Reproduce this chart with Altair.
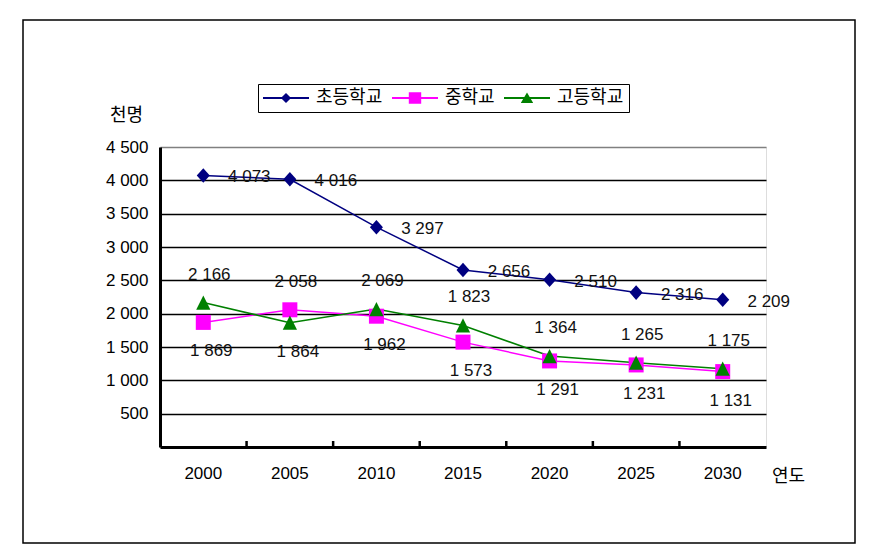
import altair as alt
import pandas as pd

# ---- data ----
years = ['2000', '2005', '2010', '2015', '2020', '2025', '2030']
series_names = ['초등학교', '중학교', '고등학교']
elementary = [4073, 4016, 3297, 2656, 2510, 2316, 2209]
middle = [1869, 2058, 1962, 1573, 1291, 1231, 1131]
high = [2166, 1864, 2069, 1823, 1364, 1265, 1175]
upper_labels = [2166, 2058, 2069, 1823, 1364, 1265, 1175]
lower_labels = [1869, 1864, 1962, 1573, 1291, 1231, 1131]
y_values = [500, 1000, 1500, 2000, 2500, 3000, 3500, 4000, 4500]

colors = ['#000080', '#FF00FF', '#008000']
point_paths = [
    'M-0.87,0L0,-0.97L0.87,0L0,0.97Z',
    'M-1,-1H1V1H-1Z',
    'M0,-0.95L0.95,0.95H-0.95Z',
]
line_path = 'M-1,-0.045H1V0.045H-1Z'
legend_paths = [
    line_path + 'M-0.22,0L0,-0.22L0.22,0L0,0.22Z',
    line_path + 'M-0.27,-0.25H0.27V0.25H-0.27Z',
    line_path + 'M0,-0.24L0.27,0.22H-0.27Z',
]

KFONT = 'Noto Sans CJK KR'
NFONT = 'Liberation Sans'
FS = 17
KFS = 18

rows = []
for name, vals in zip(series_names, [elementary, middle, high]):
    for yr, v in zip(years, vals):
        rows.append({'year': yr, 'series': name, 'value': v})
df = pd.DataFrame(rows)

fmt = "replace(format(datum.value, ','), ',', ' ')"

x_scale = alt.Scale(type='band', domain=years, paddingInner=0, paddingOuter=0)
y_scale = alt.Scale(domain=[0, 4500], nice=False, zero=True)

x_axis = alt.Axis(
    title='연도', titleFont=KFONT, titleFontSize=KFS, titleFontWeight='normal',
    titleColor='black', titleX=628, titleY=29, titleAlign='center',
    titleBaseline='middle', titleAngle=0,
    labelFont=NFONT, labelFontSize=FS, labelColor='black', labelAngle=0,
    labelBaseline='middle', labelPadding=26, ticks=False,
    domainColor='black', domainWidth=3, grid=False,
)
y_axis = alt.Axis(
    title='천명', titleFont=KFONT, titleFontSize=KFS, titleFontWeight='normal',
    titleColor='black', titleX=-34, titleY=-32, titleAlign='center',
    titleBaseline='middle', titleAngle=0,
    values=y_values, labelExpr=fmt,
    labelFont=NFONT, labelFontSize=FS, labelColor='black', labelPadding=12,
    ticks=False, domainColor='black', domainWidth=3,
    grid=True, gridWidth=1.5,
    gridColor={"condition": {"test": "datum.value >= 4500", "value": "#808080"}, "value": "black"},
)

X = alt.X('year:N', scale=x_scale, axis=x_axis)
Y = alt.Y('value:Q', scale=y_scale, axis=y_axis)

base = alt.Chart(df)

lines = base.mark_line(strokeWidth=1.5).encode(
    x=X, y=Y,
    color=alt.Color('series:N', scale=alt.Scale(domain=series_names, range=colors), legend=None),
)

points = base.mark_point(filled=True, opacity=1, size=225).encode(
    x=X, y=Y,
    color=alt.Color('series:N', scale=alt.Scale(domain=series_names, range=colors), legend=None),
    shape=alt.Shape('series:N', scale=alt.Scale(domain=series_names, range=point_paths), legend=None),
)

elem_labels = alt.Chart(pd.DataFrame({'year': years, 'value': elementary})).transform_calculate(
    lab=fmt
).mark_text(dx=46, dy=2, font=NFONT, fontSize=FS, color='#111111').encode(
    x=X, y=Y, text='lab:N'
)
up_labels = alt.Chart(pd.DataFrame({'year': years, 'value': upper_labels})).transform_calculate(
    lab=fmt
).mark_text(dx=6, dy=-28, font=NFONT, fontSize=FS, color='#111111').encode(
    x=X, y=Y, text='lab:N'
)
low_labels = alt.Chart(pd.DataFrame({'year': years, 'value': lower_labels})).transform_calculate(
    lab=fmt
).mark_text(dx=8, dy=29, font=NFONT, fontSize=FS, color='#111111').encode(
    x=X, y=Y, text='lab:N'
)

tick_marks = alt.Chart(pd.DataFrame({'year': years[1:]})).mark_rule(
    color='black', strokeWidth=2.5
).encode(
    x=alt.X('year:N', scale=x_scale, axis=x_axis, bandPosition=0),
    y=alt.value(300), y2=alt.value(294),
)

frame = alt.Chart(pd.DataFrame({'k': [0]})).mark_rect(
    fill='transparent', stroke='black', strokeWidth=1.5
).encode(
    x=alt.value(-137), x2=alt.value(695), y=alt.value(-127), y2=alt.value(396)
)

leg = alt.Legend(
    orient='none', legendX=98, legendY=-63, direction='horizontal', title=None,
    strokeColor='black', fillColor='white', padding=5, clipHeight=18,
    symbolSize=2116, symbolStrokeWidth=0, symbolOpacity=1,
    labelFont=KFONT, labelFontSize=KFS, labelColor='black',
    labelOffset=7, columnPadding=9, labelLimit=300,
)
legend_layer = base.mark_point(filled=True).encode(
    color=alt.Color('series:N', scale=alt.Scale(domain=series_names, range=colors), legend=leg),
    shape=alt.Shape('series:N', scale=alt.Scale(domain=series_names, range=legend_paths), legend=leg),
).transform_filter('false')

chart = alt.layer(
    frame, lines, points, tick_marks, elem_labels, up_labels, low_labels, legend_layer
).resolve_scale(
    color='independent', shape='independent'
).properties(
    width=606, height=300,
    autosize=alt.AutoSizeParams(type='none'),
    padding={'left': 152, 'top': 139, 'right': 98, 'bottom': 100},
).configure_view(
    stroke='#808080', strokeWidth=2
).configure(
    background='white'
)

chart.save('out.html', embed_options={'renderer': 'svg', 'actions': False})
